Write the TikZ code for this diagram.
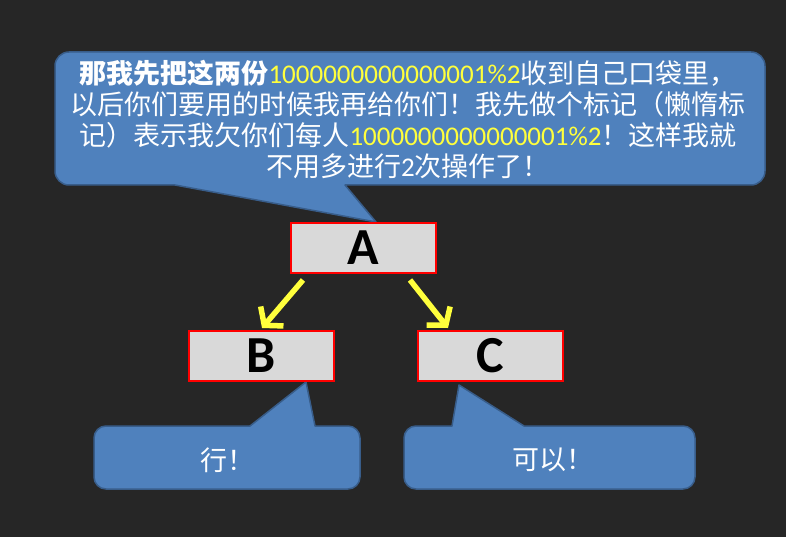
\documentclass[tikz,border=0pt]{standalone}
\usepackage{fontspec}
\setmainfont{Carlito}
\newfontfamily\cjk{Noto Sans CJK SC}
\newfontfamily\latnum{Carlito}
\usetikzlibrary{arrows.meta,calc}
\definecolor{bg}{HTML}{262626}
\definecolor{callfill}{HTML}{4F81BD}
\definecolor{calldraw}{HTML}{385D8A}
\definecolor{boxfill}{HTML}{D9D9D9}
\definecolor{yel}{HTML}{FFFF3C}
\newcommand\ynum[1]{{\latnum\color{yel}#1}}
\begin{document}
\begin{tikzpicture}[x=1pt,y=-1pt,
  callout/.style={fill=callfill,draw=calldraw,line width=1.5pt,line join=round},
  letterbox/.style={draw=red,fill=boxfill,line width=2pt,minimum width=145pt,minimum height=50pt,inner sep=0pt,font=\fontsize{52}{52}\selectfont\bfseries},
  link/.style={draw=yel,line width=5.5pt,-{Straight Barb[length=12pt,width=30pt]}},
  saytext/.style={text=white,font=\fontsize{27}{31}\selectfont\cjk,align=center,inner sep=0pt}
]
\fill[bg] (0,0) rectangle (786,537);
\useasboundingbox (0,0) rectangle (786,537);

% callouts
\path[callout] (175,185) -- (376,222) -- (345,185) [rounded corners=14pt] -- (765,185) -- (765,52) -- (55,52) -- (55,185) [sharp corners] -- cycle;
\path[callout] (250,426) -- (306,382) -- (315,426) [rounded corners=12pt] -- (360,426) -- (360,489) -- (94,489) -- (94,426) [sharp corners] -- cycle;
\path[callout] (452,426) -- (459,385) -- (524,426) [rounded corners=12pt] -- (695,426) -- (695,489) -- (404,489) -- (404,426) [sharp corners] -- cycle;

\node[saytext] (say) at (408,119) {{\bfseries 那我先把这两份}\ynum{1000000000000001\%2}收到自己口袋里，\\以后你们要用的时候我再给你们！我先做个标记（懒惰标\\记）表示我欠你们每人\ynum{1000000000000001\%2}！这样我就\\不用多进行{\latnum 2}次操作了！};
\node[saytext] (sayb) at (227,460) {行！};
\node[saytext] (sayc) at (553,460) {可以！};

% boxes
\node[letterbox] (A) at (363,248) {A};
\node[letterbox] (B) at (261.5,356) {B};
\node[letterbox] (C) at (490,356) {C};

\draw[link] ($(A.south)+(-60,6)$) -- ($(B.north)+(0.5,-2)$);
\draw[link] ($(A.south)+(47,6)$) -- ($(C.north)+(-42,-2)$);
\end{tikzpicture}
\end{document}
